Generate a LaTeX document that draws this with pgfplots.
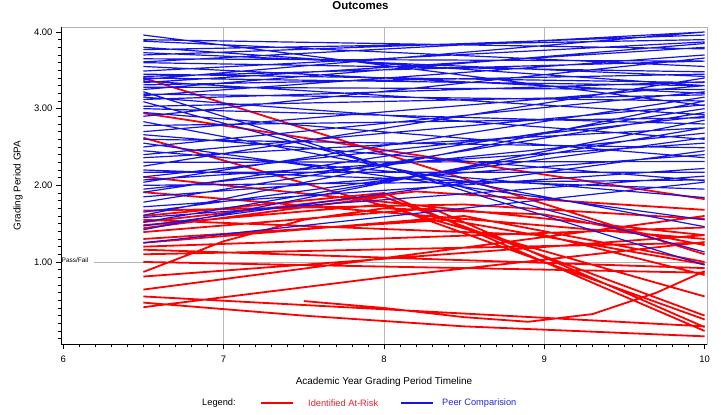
\documentclass[border=0pt]{standalone}
\usepackage{fontspec}
\setmainfont{Liberation Sans}
\usepackage{pgfplots}
\pgfplotsset{compat=1.18}
\definecolor{peer}{RGB}{20,20,235}
\definecolor{risk}{RGB}{255,0,0}
\definecolor{peertext}{RGB}{40,40,210}
\definecolor{risktext}{RGB}{235,30,50}
\begin{document}
\begin{tikzpicture}
\begin{axis}[name=ax, at={(0,0)}, anchor=south west,
  scale only axis, width=646bp, height=317bp,
  xmin=5.986, xmax=10.015, ymin=-0.07, ymax=4.065,
  xtick={6,7,8,9,10}, minor x tick num=9,
  ytick={1,2,3,4}, minor ytick={0,0.1,...,4.01},
  yticklabel style={/pgf/number format/.cd, fixed, fixed zerofill, precision=2},
  xticklabel style={yshift=-3bp},
  /pgf/number format/assume math mode=true,
  tick label style={font=\fontsize{9.5}{11}\selectfont},
  tick align=outside, xtick pos=bottom, ytick pos=left,
  major tick length=5bp, minor tick length=3bp,
  tick style={black, line width=0.6bp},
  axis line style={gray!60, line width=0.8bp},
  extra x ticks={7,8,9}, extra x tick labels={}, extra x tick style={grid=major},
  grid style={gray!55, line width=0.8bp},
  unbounded coords=jump,
  title={Outcomes},
  title style={at={(axis description cs:0.4636,1.0662)}, anchor=center, yshift=-6pt, font=\bfseries\fontsize{11.5}{13}\selectfont},
  xlabel={Academic Year Grading Period Timeline},
  xlabel style={at={(axis description cs:0.5,-0.1199)}, anchor=center, font=\fontsize{10}{12}\selectfont},
  ylabel={Grading Period GPA},
  ylabel style={at={(axis description cs:-0.0666,0.5)}, anchor=center, font=\fontsize{10}{12}\selectfont},
]
% Pass/Fail reference line
\addplot[gray!60, line width=0.8bp] coordinates {(6.19,1) (10.015,1)};
% Identified At-Risk
\addplot[risk, line width=1.8bp, line join=round] coordinates {
(6.5,3.40)(10,1.10)(nan,nan)
(6.5,2.94)(8,2.46)(10,1.82)(nan,nan)
(6.5,2.62)(10,0.55)(nan,nan)
(6.5,2.11)(10,1.35)(nan,nan)
(6.5,1.91)(10,1.30)(nan,nan)
(6.5,1.67)(8.5,1.75)(10,1.56)(nan,nan)
(6.5,1.52)(8.2,1.92)(10,1.68)(nan,nan)
(6.5,1.48)(8,1.75)(10,0.25)(nan,nan)
(6.5,1.44)(8,1.85)(10,0.30)(nan,nan)
(6.5,1.39)(8.3,1.70)(10,0.15)(nan,nan)
(6.5,1.25)(8.5,1.60)(10,1.00)(nan,nan)
(6.5,1.20)(10,1.45)(nan,nan)
(6.5,1.16)(10,0.92)(nan,nan)
(6.5,1.00)(10,0.86)(nan,nan)
(6.5,0.87)(7,1.27)(7.5,1.55)(8,1.70)(9,1.62)(10,1.22)(nan,nan)
(6.5,0.81)(10,1.35)(nan,nan)
(6.5,0.64)(8,1.05)(10,1.60)(nan,nan)
(6.5,0.55)(10,0.16)(nan,nan)
(6.5,0.47)(7.5,0.30)(8.5,0.16)(10,0.03)(nan,nan)
(6.5,0.41)(8,0.80)(10,1.26)(nan,nan)
(7.5,0.49)(8,0.40)(8.5,0.28)(8.9,0.22)(9.3,0.32)(9.7,0.60)(10,0.88)(nan,nan)
(6.5,1.60)(8,1.90)(10,0.10)(nan,nan)
(6.5,1.30)(8.4,1.55)(10,0.97)(nan,nan)
(6.5,1.10)(10,1.25)(nan,nan)
(6.5,1.55)(9,1.35)(10,0.83)
};
% Peer Comparision
\addplot[peer, line width=1.2bp] coordinates {
(6.5,3.96)(10,3.04)(nan,nan)
(6.5,3.90)(10,3.78)(nan,nan)
(6.5,3.88)(10,3.55)(nan,nan)
(6.5,3.77)(10,3.90)(nan,nan)
(6.5,3.73)(10,3.42)(nan,nan)
(6.5,3.70)(10,3.96)(nan,nan)
(6.5,3.61)(10,4.00)(nan,nan)
(6.5,3.49)(10,3.87)(nan,nan)
(6.5,3.45)(10,3.34)(nan,nan)
(6.5,3.42)(10,3.62)(nan,nan)
(6.5,3.40)(10,3.30)(nan,nan)
(6.5,3.36)(10,2.92)(nan,nan)
(6.5,3.34)(10,3.80)(nan,nan)
(6.5,3.31)(10,3.45)(nan,nan)
(6.5,3.28)(10,3.25)(nan,nan)
(6.5,3.22)(10,0.96)(nan,nan)
(6.5,3.19)(10,3.10)(nan,nan)
(6.5,3.17)(10,3.70)(nan,nan)
(6.5,3.15)(10,2.60)(nan,nan)
(6.5,3.12)(10,3.35)(nan,nan)
(6.5,3.09)(10,1.13)(nan,nan)
(6.5,3.03)(10,3.18)(nan,nan)
(6.5,2.95)(10,2.36)(nan,nan)
(6.5,2.90)(10,3.66)(nan,nan)
(6.5,2.83)(10,1.46)(nan,nan)
(6.5,2.78)(10,2.88)(nan,nan)
(6.5,2.70)(10,3.30)(nan,nan)
(6.5,2.66)(10,2.06)(nan,nan)
(6.5,2.60)(10,2.49)(nan,nan)
(6.5,2.50)(10,3.22)(nan,nan)
(6.5,2.45)(10,1.84)(nan,nan)
(6.5,2.40)(10,3.05)(nan,nan)
(6.5,2.36)(10,2.75)(nan,nan)
(6.5,2.30)(10,2.31)(nan,nan)
(6.5,2.25)(10,3.40)(nan,nan)
(6.5,2.17)(10,2.17)(nan,nan)
(6.5,2.11)(10,2.90)(nan,nan)
(6.5,2.07)(10,2.55)(nan,nan)
(6.5,2.04)(10,3.15)(nan,nan)
(6.5,2.00)(10,2.07)(nan,nan)
(6.5,1.95)(10,2.68)(nan,nan)
(6.5,1.91)(10,3.00)(nan,nan)
(6.5,1.85)(10,2.40)(nan,nan)
(6.5,1.78)(10,2.95)(nan,nan)
(6.5,1.72)(10,2.22)(nan,nan)
(6.5,1.65)(10,2.62)(nan,nan)
(6.5,1.61)(10,3.10)(nan,nan)
(6.5,1.58)(10,2.12)(nan,nan)
(6.5,1.52)(10,2.75)(nan,nan)
(6.5,1.47)(10,2.45)(nan,nan)
(6.5,1.42)(10,2.85)(nan,nan)
(6.5,1.25)(10,2.04)(nan,nan)
(6.5,3.80)(10,3.30)(nan,nan)
(6.5,3.65)(10,3.62)(nan,nan)
(6.5,3.55)(10,3.20)(nan,nan)
(6.5,3.38)(10,4.00)(nan,nan)
(6.5,2.55)(10,1.55)(nan,nan)
(6.5,3.00)(10,2.80)(nan,nan)
(6.5,3.60)(10,3.48)(nan,nan)
(6.5,3.25)(10,3.85)(nan,nan)
(6.5,2.20)(10,1.95)
};
\end{axis}
\draw[black, line width=0.8bp] (ax.north west) -- (ax.south west) -- (ax.south east);
\node[anchor=west, inner sep=0pt, font=\fontsize{6.5}{7}\selectfont] at (0.5bp,84bp) {Pass/Fail};
% legend
\node[anchor=west, inner sep=0pt, font=\fontsize{9.3}{11}\selectfont] at (141bp,-59bp) {Legend:};
\draw[risk, line width=1.8bp] (200bp,-59bp) -- (232bp,-59bp);
\node[anchor=west, inner sep=0pt, text=risktext, font=\fontsize{9.3}{11}\selectfont] at (247bp,-59bp) {Identified At-Risk};
\draw[peer, line width=1.6bp] (340bp,-59bp) -- (372bp,-59bp);
\node[anchor=west, inner sep=0pt, text=peertext, font=\fontsize{9.3}{11}\selectfont] at (381bp,-59bp) {Peer Comparision};
\pgfresetboundingbox
\path[use as bounding box] (-61bp,-71bp) rectangle (660bp,344bp);
\end{tikzpicture}
\end{document}
